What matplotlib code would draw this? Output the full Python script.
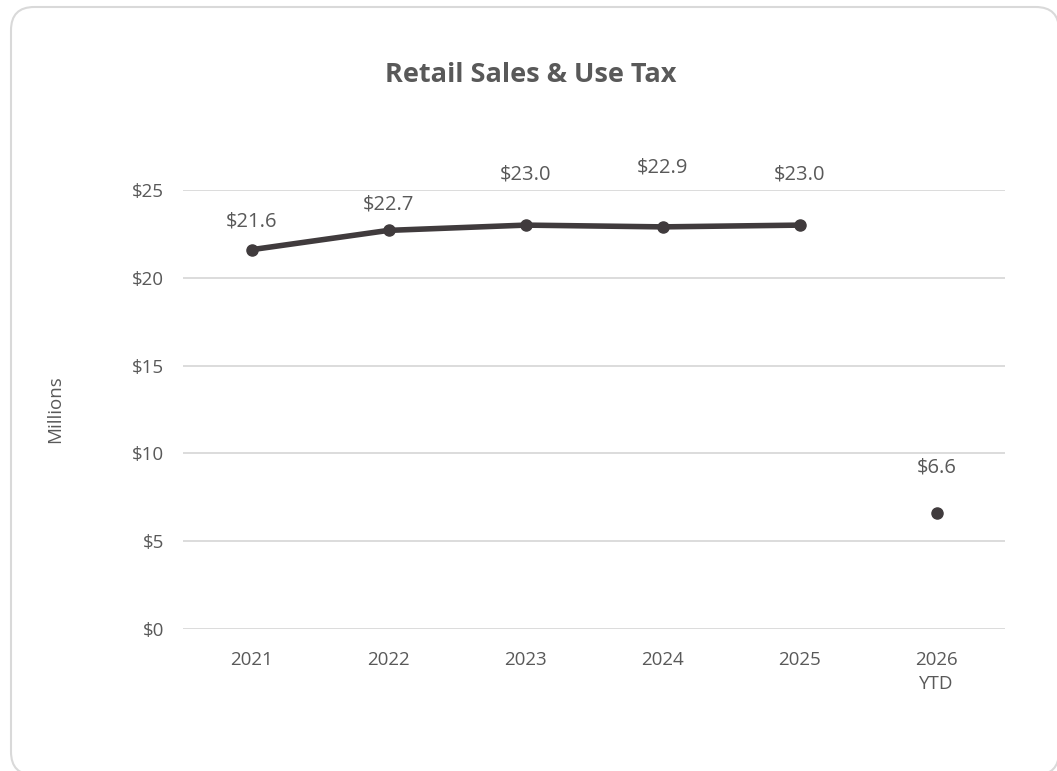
import matplotlib.pyplot as plt
from matplotlib.patches import FancyBboxPatch

# data (millions of dollars)
years = ['2021', '2022', '2023', '2024', '2025', '2026\nYTD']
full_year = [21.6, 22.7, 23.0, 22.9, 23.0]
ytd_value = 6.6
y_ticks = [0, 5, 10, 15, 20, 25]

line_color = '#403b3d'
text_color = '#595959'
grid_color = '#d9d9d9'

plt.rcParams['font.family'] = ['Open Sans', 'DejaVu Sans']

fig = plt.figure(figsize=(10.57, 7.71), dpi=100)

# rounded frame around the chart, kept behind the axes
frame = FancyBboxPatch((11 / 1057, -4 / 771), 1048 / 1057, 768 / 771,
                       boxstyle='round,pad=0,rounding_size=0.022',
                       transform=fig.transFigure, facecolor='white',
                       edgecolor='#d9d9d9', linewidth=1.5, mutation_aspect=1057 / 771,
                       zorder=-10)
fig.patches.append(frame)

ax = fig.add_axes([183 / 1057, 1 - 629 / 771, 822 / 1057, 439 / 771])
ax.set_facecolor('none')

x = list(range(len(years)))
ax.plot(x[:5], full_year, color=line_color, linewidth=4, marker='o', markersize=8,
        solid_capstyle='round', zorder=3)
ax.plot(x[5], ytd_value, color=line_color, marker='o', markersize=8, zorder=3)

# value labels above each point
offsets = [18, 16, 41, 49, 41, 36]
values = full_year + [ytd_value]
for xi, v, off in zip(x, values, offsets):
    ax.annotate(f'${v:.1f}', (xi, v), xytext=(0, off), textcoords='offset pixels',
                ha='center', va='bottom', fontsize=14.5, color=text_color)

ax.set_xlim(-0.5, 5.5)
ax.set_ylim(0, 25)
ax.set_yticks(y_ticks)
ax.set_yticklabels([f'${t}' for t in y_ticks])
ax.set_xticks(x)
ax.set_xticklabels(years, linespacing=1.45)
ax.yaxis.grid(True, color=grid_color, linewidth=1.3)
ax.set_axisbelow(True)
for s in ax.spines.values():
    s.set_visible(False)
ax.tick_params(length=0, labelsize=13.5, labelcolor=text_color)
ax.tick_params(axis='x', pad=15.5)
ax.tick_params(axis='y', pad=13.7)

ax.set_ylabel('Millions', fontsize=13.5, color=text_color, labelpad=48.5)
fig.text(531 / 1057, 1 - 75 / 771, 'Retail Sales & Use Tax', ha='center', va='center',
         fontsize=19.5, fontweight='bold', color=text_color)

plt.savefig('out.png', dpi=100)
